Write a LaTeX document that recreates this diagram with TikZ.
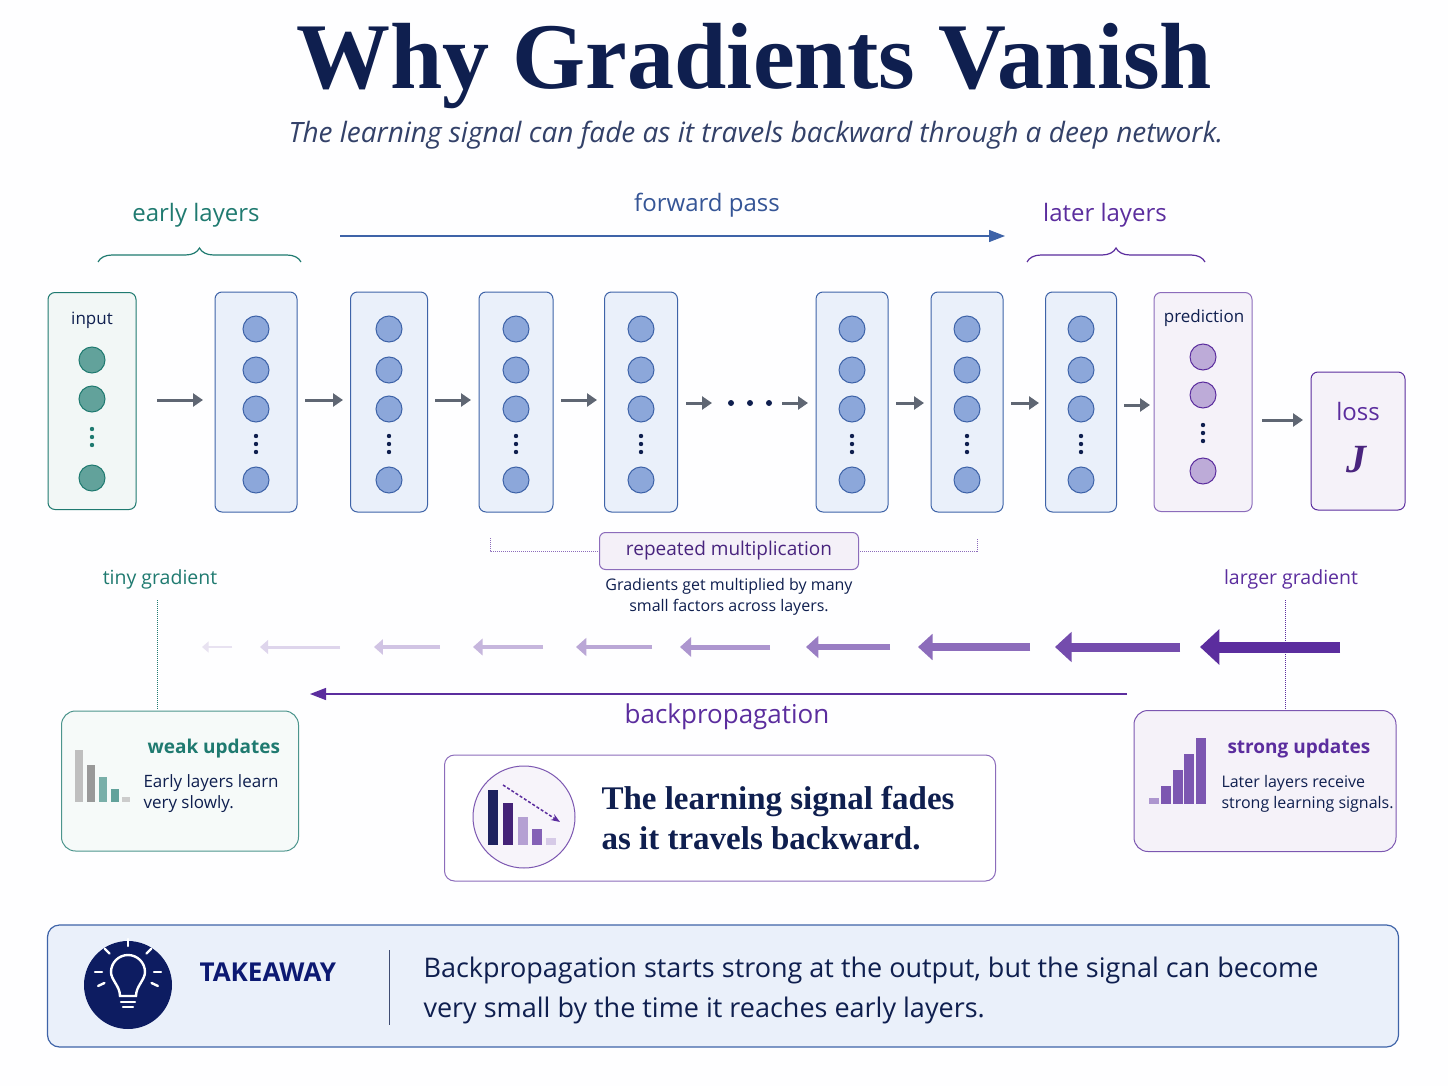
\documentclass[tikz,border=0pt]{standalone}
\usepackage{fontspec}
\setmainfont{Liberation Serif}
\setsansfont{Open Sans}
\usetikzlibrary{positioning,arrows.meta,decorations.pathreplacing,calc}
\definecolor{navy}{HTML}{0F1F4F}
\definecolor{teal}{HTML}{1F7A70}
\definecolor{grape}{HTML}{5B2D9E}
\definecolor{layerfill}{HTML}{EAF0FA}
\definecolor{layerline}{HTML}{3E63A8}
\definecolor{unitfill}{HTML}{8CA7DA}
\definecolor{arrowgray}{HTML}{5F6673}
\tikzset{
  layer/.style={draw=layerline, fill=layerfill, rounded corners=7pt, line width=1pt, minimum width=76pt, minimum height=220pt},
  unit/.style={circle, draw=layerline, fill=unitfill, line width=1pt, minimum size=26pt, inner sep=0pt},
  fwdstep/.style={-{Triangle[length=10pt,width=13pt]}, arrowgray, line width=3pt},
  grad/.style={-{Triangle[length=#1*1.4pt+4pt,width=#1*2.6pt+6pt]}, grape, line width=#1 pt},
  lbl/.style={font=\sffamily\fontsize{24}{26}\selectfont},
  small/.style={font=\sffamily\fontsize{17}{21}\selectfont, text=navy},
}
\newcommand\vdotsat[3]{\foreach \d in {-8,0,8} \fill[#3] (#1,#2+\d) circle (2.2pt);}
\begin{document}
\begin{tikzpicture}[x=1pt,y=-1pt]
  \fill[white!97!layerfill] (0,0) rectangle (1448,1086);
  \useasboundingbox (0,0) rectangle (1448,1086);
  % title
  \node[text=navy, font=\bfseries\fontsize{94}{98}\selectfont] (title) at (754,66) {Why Gradients Vanish};
  \node[text=navy!85, font=\sffamily\itshape\fontsize{28}{32}\selectfont] (subtitle) at (756,135) {The learning signal can fade as it travels backward through a deep network.};
  % layers
  \node[layer, draw=teal, fill=teal!6, minimum width=88pt, minimum height=217pt] (input) at (92,401) {};
  \node[font=\sffamily\fontsize{17}{20}\selectfont, text=navy] at (92,320) {input};
  \foreach \y in {360,399,478} \node[unit, draw=teal, fill=teal!70] at (92,\y) {};
  \vdotsat{92}{437}{teal}
  \foreach \name/\x/\w in {l1/256/82, l2/389/77, l3/516/74, l4/641/73, l5/852/72, l6/967/72, l7/1081/71} {
    \node[layer, minimum width=\w pt] (\name) at (\x,402) {};
    \foreach \y in {329,370,409,480} \node[unit] at (\x,\y) {};
    \vdotsat{\x}{444}{navy}
  }
  \node[layer, draw=grape!70, fill=grape!6, minimum width=98pt, minimum height=219pt] (pred) at (1203,402) {};
  \node[small, text=navy] at (1204,318) {prediction};
  \foreach \y in {357,395,471} \node[unit, draw=grape, fill=grape!40] at (1203,\y) {};
  \vdotsat{1203}{433}{navy}
  \node[layer, draw=grape, fill=grape!6, minimum width=94pt, minimum height=138pt] (loss) at (1358,441) {};
  \node[lbl, text=grape] at (1358,411) {loss};
  \node[text=grape!80!black, font=\bfseries\itshape\fontsize{40}{40}\selectfont] at (1356,460) {J};
  % forward steps
  \draw[fwdstep] (157,400) -- (203,400);
  \draw[fwdstep] (305,400) -- (343,400);
  \draw[fwdstep] (435,400) -- (471,400);
  \draw[fwdstep] (561,400) -- (597,400);
  \draw[fwdstep] (686,403) -- (712,403);
  \foreach \x in {731,750,769} \fill[navy] (\x,403) circle (3pt);
  \draw[fwdstep] (782,403) -- (808,403);
  \draw[fwdstep] (896,403) -- (924,403);
  \draw[fwdstep] (1011,403) -- (1039,403);
  \draw[fwdstep] (1124,405) -- (1150,405);
  \draw[fwdstep] (1262,420) -- (1303,420);
  % braces and forward pass
  \draw[teal, line width=1.2pt, decorate, decoration={brace, amplitude=14pt}] (98,262) -- (301,262);
  \node[lbl, text=teal] at (196,215) {early layers};
  \draw[grape, line width=1.2pt, decorate, decoration={brace, amplitude=14pt}] (1027,262) -- (1205,262);
  \node[lbl, text=grape] at (1105,215) {later layers};
  \node[lbl, text=layerline!80!navy] (fwd) at (707,205) {forward pass};
  \draw[-{Stealth[length=16pt,width=12pt,inset=0pt]}, layerline, line width=1.3pt] (340,236) -- (1005,236);
  % repeated multiplication
  \draw[grape!70, densely dotted, line width=1pt] (490,538) -- (490,551) -- (599,551) (858,551) -- (977,551) -- (977,538);
  \node[draw=grape!70, fill=grape!7, rounded corners=6pt, line width=1pt, minimum width=259pt, minimum height=37pt, font=\sffamily\fontsize{19}{20}\selectfont, text=grape!80!black] (rep) at (729,551) {repeated multiplication};
  \node[small, align=center, font=\sffamily\fontsize{16}{21}\selectfont] (repnote) at (729,597) {Gradients get multiplied by many\\small factors across layers.};
  % gradient arrows
  \node[font=\sffamily\fontsize{19.5}{22}\selectfont, text=teal] (tiny) at (160,579) {tiny gradient};
  \node[font=\sffamily\fontsize{19.5}{22}\selectfont, text=grape] (large) at (1291,579) {larger gradient};
  \foreach \a/\b/\t/\o in {1340/1200/11/100, 1180/1055/9/85, 1030/918/7.5/70, 890/806/6/62, 770/680/5/50, 652/576/4.5/42, 543/473/4/35, 440/374/3.5/28, 340/260/3/20, 232/202/1.8/14}
    \draw[grad=\t, grape!\o!white] (\a,647) -- (\b,647);
  \draw[teal, densely dotted, line width=1pt] (157,600) -- (157,710);
  \draw[grape, densely dotted, line width=1pt] (1285,600) -- (1285,710);
  \draw[-{Stealth[length=16pt,width=12pt,inset=0pt]}, grape, line width=1.3pt] (1127,694) -- (310,694);
  \node[lbl, text=grape, font=\sffamily\fontsize{26}{28}\selectfont] (back) at (727,717) {backpropagation};
  % weak updates
  \node[draw=teal!80, fill=teal!4, rounded corners=14pt, line width=1pt, minimum width=237pt, minimum height=140pt] (weak) at (180,781) {};
  \foreach \x/\h/\c in {79/52/gray!50, 91/37/gray!80, 103/25/teal!60, 115/13/teal!70, 126/5/gray!40}
    \fill[\c] (\x-4,802) rectangle (\x+4,802-\h);
  \node[anchor=west, font=\sffamily\bfseries\fontsize{19}{22}\selectfont, text=teal] at (144,749) {weak updates};
  \node[anchor=north west, small, align=left] at (140,771) {Early layers learn\\very slowly.};
  % strong updates
  \node[draw=grape!80, fill=grape!6, rounded corners=14pt, line width=1pt, minimum width=262pt, minimum height=141pt] (strong) at (1265,781) {};
  \foreach \x/\h/\c in {1154/6/grape!50, 1166/18/grape!80, 1178/34/grape!80, 1189/50/grape!80, 1201/66/grape!80}
    \fill[\c] (\x-5,804) rectangle (\x+5,804-\h);
  \node[anchor=west, font=\sffamily\bfseries\fontsize{19}{22}\selectfont, text=grape] at (1224,749) {strong updates};
  \node[anchor=north west, small, align=left, font=\sffamily\fontsize{16}{21}\selectfont] at (1218,772) {Later layers receive\\strong learning signals.};
  % central message
  \node[draw=grape!70, fill=white, rounded corners=10pt, line width=1pt, minimum width=551pt, minimum height=126pt] (msg) at (720,818) {};
  \node[circle, draw=grape!80, fill=grape!5, line width=1pt, minimum size=102pt] (icon) at (524,817) {};
  \foreach \x/\h/\c in {493/55/navy!80!grape, 508/42/grape!75!black, 523/28/grape!45, 537/16/grape!75, 551/7/grape!25}
    \fill[\c] (\x-5,845) rectangle (\x+5,845-\h);
  \draw[-{Stealth[length=9pt]}, grape, densely dashed, line width=1.5pt] (503,785) -- (560,822);
  \node[anchor=west, align=left, text=navy, font=\bfseries\fontsize{33}{40}\selectfont] at (598,818) {The learning signal fades\\as it travels backward.};
  % takeaway
  \node[draw=layerline, fill=layerfill, rounded corners=12pt, line width=1.2pt, minimum width=1351pt, minimum height=122pt] (take) at (723,986) {};
  \node[circle, fill=navy!90!blue, minimum size=88pt] (bulb) at (128,985) {};
  \begin{scope}[shift={(128,980)}, white, line width=2.4pt, line cap=round]
    \draw (-8,16) .. controls (-8,6) and (-17,0) .. (-17,-8) arc (180:360:17) .. controls (17,0) and (8,6) .. (8,16) -- cycle;
    \draw (-7,22) -- (7,22); \draw (-5,27) -- (5,27);
    \foreach \ang in {-90,-135,-45,180,0,155,25} \draw (\ang:26) ++(0,-8) -- ++(\ang:7);
  \end{scope}
  \node[anchor=west, font=\sffamily\bfseries\fontsize{26}{28}\selectfont, text=navy!80!blue] (tk) at (196,972) {TAKEAWAY};
  \draw[navy!80, line width=1pt] (389,950) -- (389,1025);
  \node[anchor=west, align=left, text=navy, font=\sffamily\fontsize{27}{40}\selectfont] (taketext) at (420,990) {Backpropagation starts strong at the output, but the signal can become\\very small by the time it reaches early layers.};
\end{tikzpicture}
\end{document}
